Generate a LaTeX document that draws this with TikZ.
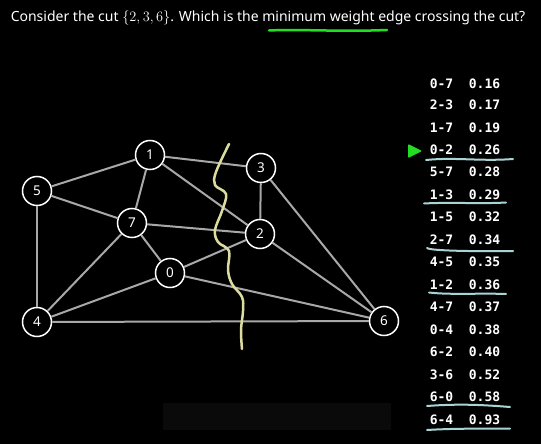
\documentclass[tikz,border=0pt]{standalone}
\usepackage{fontspec}
\setmainfont{Noto Sans}
\setmonofont{DejaVu Sans Mono}

\definecolor{linkgray}{HTML}{A8A8A8}
\definecolor{chalk}{HTML}{A9D4D4}
\definecolor{cutyellow}{HTML}{DCDCA0}
\definecolor{hilite}{HTML}{22DD22}

\tikzset{every picture/.style={line width=1.5bp}}

\begin{document}
\begin{tikzpicture}[
    x=1bp, y=-1bp,
    vertex/.style={circle, draw=white, fill=black, line width=1.5bp,
        minimum size=29bp, inner sep=0pt, text=white,
        font=\fontsize{13.5bp}{15bp}\selectfont},
    row/.style={anchor=base west, inner sep=0pt, text=white,
        font=\ttfamily\bfseries\fontsize{13bp}{15bp}\selectfont},
    link/.style={draw=linkgray, line width=2bp},
    chalkline/.style={draw=chalk, line width=2bp, line cap=round},
]

    % background
    \fill[black] (0,0) rectangle (541,444);
    \useasboundingbox (0,0) rectangle (541,444);
    \fill[black!96!white] (163,403) rectangle (391,430);

    % question
    \node[anchor=base west, inner sep=0pt, text=white,
        font=\fontsize{14bp}{17bp}\selectfont] (question) at (10,22)
        {Consider the cut $\{2,3,6\}$. Which is the minimum weight edge crossing the cut?};
    \draw[draw=hilite, line width=2.5bp, line cap=round]
        (269,30.5) .. controls (300,29) and (340,32) .. (387,30);

    % graph
    \node[vertex] (v1) at (150,155) {1};
    \node[vertex] (v3) at (261,168) {3};
    \node[vertex] (v5) at (37,191) {5};
    \node[vertex] (v7) at (132,223) {7};
    \node[vertex] (v2) at (260,234) {2};
    \node[vertex] (v0) at (170,273) {0};
    \node[vertex] (v4) at (37,322) {4};
    \node[vertex] (v6) at (384,321) {6};

    \draw[link] (v0) -- (v7);
    \draw[link] (v2) -- (v3);
    \draw[link] (v1) -- (v7);
    \draw[link] (v0) -- (v2);
    \draw[link] (v5) -- (v7);
    \draw[link] (v1) -- (v3);
    \draw[link] (v1) -- (v5);
    \draw[link] (v2) -- (v7);
    \draw[link] (v4) -- (v5);
    \draw[link] (v1) -- (v2);
    \draw[link] (v4) -- (v7);
    \draw[link] (v0) -- (v4);
    \draw[link] (v6) -- (v2);
    \draw[link] (v3) -- (v6);
    \draw[link] (v6) -- (v0);
    \draw[link] (v6) -- (v4);

    % the cut
    \draw[draw=cutyellow, line width=2.5bp, line cap=round]
        plot[smooth, tension=0.6] coordinates {(229,144) (216,172) (215,185)
        (226,194) (222,211) (215,230) (218,242) (229,251) (228,270)
        (232,284) (242,297) (243,311) (241,330) (242,349)};

    % sorted edge weights
    \node[row] (r07) at (429,88.3) {0-7~~0.16};
    \node[row] (r23) at (429,109.3) {2-3~~0.17};
    \node[row] (r17) at (429,132.3) {1-7~~0.19};
    \node[row] (r02) at (429,155) {0-2~~0.26};
    \node[row] (r57) at (429,176.7) {5-7~~0.28};
    \node[row] (r13) at (429,199.3) {1-3~~0.29};
    \node[row] (r15) at (429,221.7) {1-5~~0.32};
    \node[row] (r27) at (429,244.3) {2-7~~0.34};
    \node[row] (r45) at (429,266.7) {4-5~~0.35};
    \node[row] (r12) at (429,289) {1-2~~0.36};
    \node[row] (r47) at (429,311.7) {4-7~~0.37};
    \node[row] (r04) at (429,334) {0-4~~0.38};
    \node[row] (r62) at (429,356) {6-2~~0.40};
    \node[row] (r36) at (429,379) {3-6~~0.52};
    \node[row] (r60) at (429,401) {6-0~~0.58};
    \node[row] (r64) at (429,424) {6-4~~0.93};

    % pointer and underlines
    \fill[hilite, rounded corners=1bp] (408,144) -- (422,151) -- (408,158) -- cycle;
    \draw[chalkline] (426,160) .. controls (455,157) and (480,161.5) .. (513,159);
    \draw[chalkline] (424,203.5) .. controls (450,202) and (480,204) .. (506,202.5);
    \draw[chalkline] (427,248) .. controls (430,251) and (480,251.5) .. (513,251);
    \draw[chalkline] (429,292.5) .. controls (450,295) and (480,293) .. (506,294);
    \draw[chalkline] (427,406) .. controls (460,403.5) and (485,405) .. (510,407);
    \draw[chalkline] (427,430) .. controls (460,428) and (485,429) .. (510,428.5);

\end{tikzpicture}
\end{document}
